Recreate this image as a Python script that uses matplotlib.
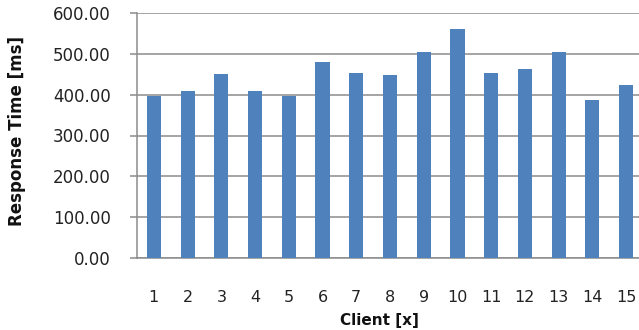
import matplotlib.pyplot as plt
import numpy as np

clients = list(range(1, 16))
response_ms = [397, 408, 450, 408, 397, 480, 454, 449, 505, 560, 454, 462, 505, 386, 424]
y_ticks = [0, 100, 200, 300, 400, 500, 600]

plt.rcParams['font.family'] = ['DejaVu Sans']

fig = plt.figure(figsize=(6.39, 3.30), dpi=100)
# plot area runs a little past the right edge of the figure
ax = fig.add_axes([137 / 639, 1 - 258 / 330, 506 / 639, 245 / 330])

x = np.array(clients)
ax.bar(x, response_ms, width=0.42, color='#4F81BD', zorder=3)

ax.set_xlim(0.5, 15.5)
ax.set_ylim(0, 600)
ax.set_yticks(y_ticks)
ax.set_yticklabels([f'{v:.2f}' for v in y_ticks], fontsize=12, color='#222222')
ax.set_xticks(x)
ax.set_xticklabels([str(c) for c in clients], fontsize=11.5, color='#222222')

ax.grid(axis='y', color='#8C8C8C', linewidth=1.1, zorder=0)
for side in ['top', 'right']:
    ax.spines[side].set_visible(False)
for side in ['left', 'bottom']:
    ax.spines[side].set_color('#8C8C8C')
    ax.spines[side].set_linewidth(1.1)

ax.tick_params(axis='y', length=5, width=1.1, color='#8C8C8C', pad=14)
ax.tick_params(axis='x', length=0, pad=23)

ax.set_ylabel('Response Time [ms]', fontsize=12, fontweight='bold', color='#111111')
ax.yaxis.set_label_coords(-0.219, 0.518)
ax.set_xlabel('Client [x]', fontsize=11, fontweight='bold', color='#111111')
ax.xaxis.set_label_coords(0.48, -0.225)

fig.savefig('out.png', dpi=100)
